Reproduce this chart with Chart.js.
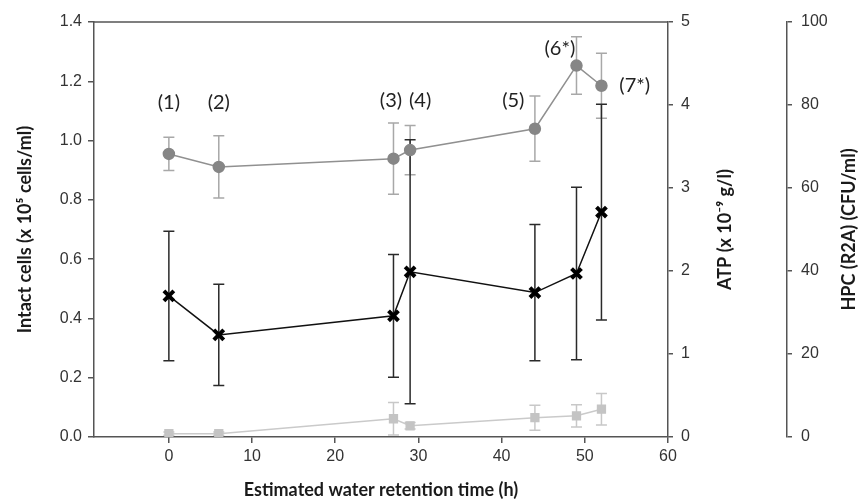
<!DOCTYPE html>
<html>
<head>
<meta charset="utf-8">
<script src="https://cdn.jsdelivr.net/npm/chart.js@4.4.1/dist/chart.umd.min.js"></script>
<style>
  html, body { margin: 0; padding: 0; background: #fff; }
  #wrap { width: 863px; height: 502px; }
</style>
</head>
<body>
<div id="wrap"><canvas id="chart"></canvas></div>
<script>
// Retention time of each sample (h)
const hours = [0, 6, 27, 29, 44, 49, 52];

// Intact cells (x 10^5 cells/ml)
const intactCells = [0.955, 0.911, 0.939, 0.968, 1.040, 1.253, 1.185];
const intactErr = [0.056, 0.105, 0.12, 0.083, 0.11, 0.097, 0.11];

// ATP (x 10^-9 g/l)
const atp = [1.70, 1.23, 1.46, 1.99, 1.74, 1.97, 2.71];
const atpErr = [0.78, 0.61, 0.74, 1.59, 0.82, 1.04, 1.30];

// HPC (R2A) (CFU/ml)
const hpc = [0.8, 0.8, 4.4, 2.7, 4.65, 5.1, 6.7];
const hpcErr = [0.4, 0.4, 3.9, 0.8, 3.0, 2.7, 3.8];

// Sample labels, placed in data units (x in h, y on the intact cells axis)
const sampleLabels = ['(1)', '(2)', '(3)', '(4)', '(5)', '(6*)', '(7*)'];
const sampleLabelX = [0, 6, 26.7, 30.2, 41.4, 47.0, 56.0];
const sampleLabelY = [1.127, 1.127, 1.135, 1.135, 1.135, 1.311, 1.184];

const xTicks = [0, 10, 20, 30, 40, 50, 60];

const axisColor = '#555';
const tickFont = { family: 'Liberation Sans, Arial, sans-serif', size: 16 };
const titleFont = { family: 'Lato, sans-serif', size: 18, weight: 'bold' };

function toPoints(ys) {
    return hours.map((h, i) => ({ x: h, y: ys[i] }));
}

// error bars behind the markers
const errorBars = {
    id: 'errorBars',
    beforeDatasetsDraw(chart) {
        const ctx = chart.ctx;
        const xScale = chart.scales.x;
        chart.data.datasets.forEach((ds) => {
            const yScale = chart.scales[ds.yAxisID];
            ctx.save();
            ctx.strokeStyle = ds.errColor;
            ctx.lineWidth = 1.5;
            ds.data.forEach((p, j) => {
                const e = ds.errors[j];
                const x = xScale.getPixelForValue(p.x);
                const yt = yScale.getPixelForValue(p.y + e);
                const yb = yScale.getPixelForValue(p.y - e);
                ctx.beginPath();
                ctx.moveTo(x, yt); ctx.lineTo(x, yb);
                ctx.moveTo(x - 5.5, yt); ctx.lineTo(x + 5.5, yt);
                ctx.moveTo(x - 5.5, yb); ctx.lineTo(x + 5.5, yb);
                ctx.stroke();
            });
            ctx.restore();
        });
    }
};

// top frame line, sample labels and right axis titles
const extras = {
    id: 'extras',
    afterDraw(chart) {
        const ctx = chart.ctx;
        const area = chart.chartArea;
        ctx.save();
        ctx.strokeStyle = axisColor;
        ctx.lineWidth = 1.5;
        ctx.beginPath();
        ctx.moveTo(area.left, area.top);
        ctx.lineTo(area.right, area.top);
        ctx.stroke();

        const xScale = chart.scales.x;
        const yScale = chart.scales.y;
        ctx.fillStyle = '#222';
        ctx.font = '20px Lato, sans-serif';
        ctx.textAlign = 'center';
        ctx.textBaseline = 'middle';
        sampleLabels.forEach((t, i) => {
            ctx.fillText(t, xScale.getPixelForValue(sampleLabelX[i]), yScale.getPixelForValue(sampleLabelY[i]));
        });

        const midY = (area.top + area.bottom) / 2;
        ctx.font = 'bold 18px Lato, sans-serif';
        ctx.fillStyle = '#1a1a1a';
        [[chart.scales.y1.left + 57, 'ATP (x 10\u207B\u2079 g/l)'],
         [chart.scales.y2.left + 62, 'HPC (R2A) (CFU/ml)']].forEach(([x, t]) => {
            ctx.save();
            ctx.translate(x, midY);
            ctx.rotate(-Math.PI / 2);
            ctx.fillText(t, 0, 0);
            ctx.restore();
        });
        ctx.restore();
    }
};

document.addEventListener('DOMContentLoaded', () => {
    const ctx = document.getElementById('chart').getContext('2d');
    new Chart(ctx, {
        type: 'line',
        data: {
            datasets: [{
                label: 'Intact cells',
                data: toPoints(intactCells),
                errors: intactErr,
                errColor: '#a8a8a8',
                yAxisID: 'y',
                borderColor: '#909090',
                borderWidth: 1.5,
                pointStyle: 'circle',
                pointRadius: 5.5,
                pointBackgroundColor: '#868686',
                pointBorderColor: '#868686',
                tension: 0
            }, {
                label: 'ATP',
                data: toPoints(atp),
                errors: atpErr,
                errColor: '#2a2a2a',
                yAxisID: 'y1',
                borderColor: '#111',
                borderWidth: 1.5,
                pointStyle: 'crossRot',
                pointRadius: 7,
                pointBorderWidth: 4,
                pointBorderColor: '#000',
                tension: 0
            }, {
                label: 'HPC',
                data: toPoints(hpc),
                errors: hpcErr,
                errColor: '#c8c8c8',
                yAxisID: 'y2',
                borderColor: '#cacaca',
                borderWidth: 1.5,
                pointStyle: 'rect',
                pointRadius: 5.5,
                pointBackgroundColor: '#c4c4c4',
                pointBorderColor: '#c4c4c4',
                tension: 0
            }]
        },
        options: {
            responsive: true,
            maintainAspectRatio: false,
            animation: false,
            layout: { padding: { top: 22, left: 0, right: 0, bottom: 0 } },
            plugins: {
                legend: { display: false },
                tooltip: { enabled: false }
            },
            scales: {
                x: {
                    type: 'linear',
                    min: -9,
                    max: 60,
                    afterBuildTicks: (scale) => {
                        scale.ticks = xTicks.map(v => ({ value: v }));
                    },
                    afterFit: (scale) => { scale.height = 65; },
                    grid: { drawOnChartArea: false, drawTicks: true, tickLength: 6, color: axisColor, lineWidth: 1.5 },
                    border: { display: true, color: axisColor, width: 1.5 },
                    ticks: { font: tickFont, color: '#333', padding: 4, maxRotation: 0 },
                    title: {
                        display: true,
                        text: 'Estimated water retention time (h)',
                        font: titleFont,
                        color: '#1a1a1a',
                        padding: { top: 0, bottom: 1 }
                    }
                },
                y: {
                    position: 'left',
                    min: 0,
                    max: 1.4,
                    afterFit: (scale) => { scale.width = 94; },
                    grid: { drawOnChartArea: false, drawTicks: true, tickLength: 6, color: axisColor, lineWidth: 1.5 },
                    border: { display: true, color: axisColor, width: 1.5 },
                    ticks: {
                        stepSize: 0.2,
                        font: tickFont,
                        color: '#333',
                        padding: 6,
                        callback: (v) => v.toFixed(1)
                    },
                    title: {
                        display: true,
                        text: 'Intact cells (x 10\u2075 cells/ml)',
                        font: titleFont,
                        color: '#1a1a1a',
                        padding: { top: 14, bottom: 0 }
                    }
                },
                y1: {
                    position: 'right',
                    min: 0,
                    max: 5,
                    afterFit: (scale) => { scale.width = 119; },
                    grid: { drawOnChartArea: false, drawTicks: true, tickLength: 5, color: axisColor, lineWidth: 1.5 },
                    border: { display: true, color: axisColor, width: 1.5 },
                    ticks: { stepSize: 1, font: tickFont, color: '#333', padding: 8 }
                },
                y2: {
                    position: 'right',
                    min: 0,
                    max: 100,
                    afterFit: (scale) => { scale.width = 76; },
                    grid: { drawOnChartArea: false, drawTicks: true, tickLength: 5, color: axisColor, lineWidth: 1.5 },
                    border: { display: true, color: axisColor, width: 1.5 },
                    ticks: { stepSize: 20, font: tickFont, color: '#333', padding: 9 }
                }
            }
        },
        plugins: [errorBars, extras]
    });
});
</script>
</body>
</html>
